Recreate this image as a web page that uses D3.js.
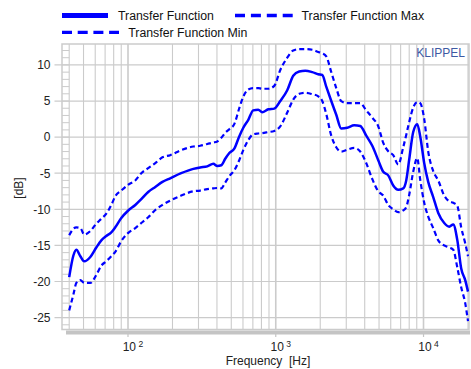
<!DOCTYPE html>
<html>
<head>
<meta charset="utf-8">
<script src="https://cdn.jsdelivr.net/npm/d3@7"></script>
<style>
  html, body { margin: 0; padding: 0; background: #fff; }
  #chart { width: 471px; height: 369px; }
  text { font-family: Arial, "Liberation Sans", sans-serif; }
</style>
</head>
<body>
<div id="chart"></div>
<script>
// Transfer function chart (log frequency axis)

const freqs = [40, 42.7, 44.7, 47.6, 50.6, 55.6, 61, 66, 71.3, 77.1, 82, 90.1, 100, 112, 123, 137, 153, 171, 193, 229,
  277, 308, 344, 378, 402, 428, 455, 485, 524, 566, 603, 652, 704, 761, 810, 890, 977, 1073, 1196, 1313,
  1442, 1584, 1766, 1940, 2064, 2196, 2375, 2567, 2774, 3047, 3397, 3731, 4097, 4499, 4939, 5339, 5770, 6237, 6744, 7290,
  7638, 8001, 8516, 9066, 9500, 10110, 10760, 11630, 12580, 13810, 14930, 15890, 16910, 17990, 19150, 20000];

const tfValues = [-19.4, -16.4, -15.6, -16.5, -17.2, -16.6, -15.3, -14.3, -13.7, -13.2, -12.5, -11.2, -10.2, -9.4, -8.6, -7.6, -6.9, -6.2, -5.7, -5.0,
  -4.4, -4.2, -4.05, -3.7, -4.0, -3.9, -3.0, -2.2, -1.6, 0.1, 1.3, 2.4, 3.7, 3.8, 3.45, 3.85, 3.95, 5.0, 6.5, 8.5,
  9.1, 9.2, 9.0, 8.7, 8.6, 7.0, 5.0, 3.1, 1.2, 1.3, 1.65, 1.55, 0.2, -1.2, -3.2, -4.8, -5.3, -6.7, -7.3, -7.1,
  -6.0, -3.1, 0.7, 1.8, 0.1, -3.6, -6.2, -8.3, -10.5, -11.9, -12.4, -12.1, -14.2, -18.2, -19.8, -21.4];

const tfMaxValues = [-13.6, -12.7, -12.5, -12.6, -13.5, -13.0, -12.0, -11.3, -10.6, -9.4, -8.2, -7.4, -6.6, -6.0, -5.0, -4.3, -3.6, -2.8, -2.5, -1.8,
  -1.3, -1.2, -0.95, -0.75, -0.6, -0.1, 0.6, 1.1, 1.8, 4.0, 5.6, 6.6, 6.8, 6.8, 6.7, 6.7, 7.1, 9.3, 11.0, 12.0,
  12.2, 12.2, 12.1, 11.8, 11.6, 11.2, 9.0, 6.8, 5.0, 4.7, 4.7, 4.7, 3.7, 2.7, 1.5, -0.8, -1.95, -2.5, -3.8, -1.4,
  0.3, 2.1, 4.1, 4.85, 4.7, 2.5, -2.0, -4.7, -6.0, -8.1, -8.9, -9.1, -9.5, -12.5, -14.7, -16.5];

const tfMinValues = [-24.0, -21.8, -20.2, -19.8, -20.2, -20.2, -19.1, -17.8, -17.2, -16.5, -15.9, -14.4, -13.3, -12.6, -11.9, -11.1, -10.1, -9.4, -8.8, -8.1,
  -7.5, -7.4, -7.2, -7.1, -7.05, -7.1, -6.3, -5.4, -4.6, -3.2, -1.8, -0.4, 0.4, 0.5, 0.55, 0.7, 0.85, 1.5, 3.4, 5.2,
  6.0, 6.15, 5.95, 5.65, 5.0, 3.2, 0.2, -1.4, -2.0, -1.75, -1.5, -2.0, -3.6, -5.8, -7.5, -8.1, -9.4, -10.0, -10.4, -10.15,
  -9.7, -8.0, -4.8, -2.9, -5.9, -9.1, -11.0, -12.6, -14.3, -15.0, -15.3, -15.6, -18.0, -20.8, -23.0, -25.5];

const yTicks = [10, 5, 0, -5, -10, -15, -20, -25];
const xDecades = [100, 1000, 10000];
const xDecadeLabels = [["10", "2"], ["10", "3"], ["10", "4"]];

const seriesNames = ["Transfer Function", "Transfer Function Max", "Transfer Function Min"];

const width = 471, height = 369;
const plot = { left: 62, right: 469, top: 44, bottom: 329.5 };
const gridColor = "#cbcbcb";
const lineColor = "#0000ff";

const svg = d3.select("#chart")
  .append("svg")
  .attr("width", width)
  .attr("height", height);

const xScale = d3.scaleLog()
  .domain([40, 20000])
  .range([69.2, 468]);

const yScale = d3.scaleLinear()
  .domain([-26.65, 12.9])
  .range([plot.bottom, plot.top]);

// vertical grid lines: 40..90, 100..900, 1000..9000, 10000, 20000
const vGrid = [];
[10, 100, 1000, 10000].forEach(dec => {
  for (let m = 1; m <= 9; m++) {
    const f = dec * m;
    if (f >= 40 && f <= 20000) vGrid.push(f);
  }
});

svg.append("g")
  .selectAll("line")
  .data(vGrid)
  .join("line")
  .attr("x1", d => xScale(d))
  .attr("x2", d => xScale(d))
  .attr("y1", plot.top)
  .attr("y2", plot.bottom)
  .attr("stroke", gridColor)
  .attr("stroke-width", d => xDecades.includes(d) ? 1.6 : 1.1);

// horizontal grid lines + outer ticks
svg.append("g")
  .selectAll("line")
  .data(yTicks)
  .join("line")
  .attr("x1", 54.5)
  .attr("x2", plot.right)
  .attr("y1", d => yScale(d))
  .attr("y2", d => yScale(d))
  .attr("stroke", gridColor)
  .attr("stroke-width", 1.2);

// minor dB ruler on the left
svg.append("g")
  .selectAll("line")
  .data(d3.range(-26, 13))
  .join("line")
  .attr("x1", plot.left)
  .attr("x2", 69.2)
  .attr("y1", d => yScale(d))
  .attr("y2", d => yScale(d))
  .attr("stroke", gridColor)
  .attr("stroke-width", 1);

// frame
svg.append("rect")
  .attr("x", plot.left)
  .attr("y", plot.top)
  .attr("width", plot.right - plot.left)
  .attr("height", plot.bottom - plot.top)
  .attr("fill", "none")
  .attr("stroke", gridColor)
  .attr("stroke-width", 1.5);

// bottom axis bar
svg.append("rect")
  .attr("x", 66)
  .attr("y", 330.5)
  .attr("width", 404)
  .attr("height", 4)
  .attr("fill", "#c4c4c4");

svg.append("g")
  .selectAll("line")
  .data(xDecades)
  .join("line")
  .attr("x1", d => xScale(d))
  .attr("x2", d => xScale(d))
  .attr("y1", 334)
  .attr("y2", 337)
  .attr("stroke", "#c4c4c4")
  .attr("stroke-width", 1.2);

// y tick labels
svg.append("g")
  .selectAll("text")
  .data(yTicks)
  .join("text")
  .attr("x", 50.5)
  .attr("y", d => yScale(d) + 4.3)
  .attr("text-anchor", "end")
  .style("font-size", "12px")
  .style("fill", "#222")
  .text(d => d);

// x tick labels with superscript exponent
const xLabels = svg.append("g")
  .selectAll("text")
  .data(xDecades)
  .join("text")
  .attr("x", d => xScale(d) - 5.3)
  .attr("y", 351)
  .style("font-size", "12px")
  .style("fill", "#222");

xLabels.append("tspan").text((d, i) => xDecadeLabels[i][0]);
xLabels.append("tspan")
  .attr("dx", 2.5)
  .attr("dy", -4)
  .style("font-size", "8.5px")
  .text((d, i) => xDecadeLabels[i][1]);

svg.append("text")
  .attr("x", 268)
  .attr("y", 365)
  .attr("text-anchor", "middle")
  .style("font-size", "12px")
  .style("fill", "#222")
  .style("white-space", "pre")
  .attr("xml:space", "preserve")
  .text("Frequency  [Hz]");

svg.append("text")
  .attr("transform", "translate(23,188) rotate(-90)")
  .attr("text-anchor", "middle")
  .style("font-size", "12px")
  .style("fill", "#222")
  .text("[dB]");

svg.append("text")
  .attr("x", 465)
  .attr("y", 57.3)
  .attr("text-anchor", "end")
  .style("font-size", "12px")
  .style("fill", "#3d5aa3")
  .text("KLIPPEL");

// curves
svg.append("clipPath")
  .attr("id", "plot-clip")
  .append("rect")
  .attr("x", plot.left)
  .attr("y", plot.top)
  .attr("width", plot.right - plot.left)
  .attr("height", plot.bottom - plot.top);

const line = d3.line()
  .x(d => xScale(d.f))
  .y(d => yScale(d.v))
  .curve(d3.curveMonotoneX);

const toPoints = vals => freqs.map((f, i) => ({ f, v: vals[i] }));

const curves = [
  { name: seriesNames[1], values: tfMaxValues, dash: "5,3.2", w: 2.2 },
  { name: seriesNames[2], values: tfMinValues, dash: "5,3.2", w: 2.2 },
  { name: seriesNames[0], values: tfValues, dash: null, w: 2.5 }
];

svg.append("g")
  .attr("clip-path", "url(#plot-clip)")
  .selectAll("path")
  .data(curves)
  .join("path")
  .attr("d", d => line(toPoints(d.values)))
  .attr("fill", "none")
  .attr("stroke", lineColor)
  .attr("stroke-width", d => d.w)
  .attr("stroke-linejoin", "round")
  .attr("stroke-dasharray", d => d.dash);

// legend
const legendItems = [
  { name: seriesNames[0], x1: 62, x2: 108, y: 15.5, tx: 118, dash: null, w: 5 },
  { name: seriesNames[1], x1: 235, x2: 293, y: 15.5, tx: 301.5, dash: "10,5.9", w: 3.3 },
  { name: seriesNames[2], x1: 62, x2: 119, y: 32.3, tx: 128.3, dash: "10,5.7", w: 3.3 }
];

const legend = svg.append("g");

legend.selectAll("line")
  .data(legendItems)
  .join("line")
  .attr("x1", d => d.x1)
  .attr("x2", d => d.x2)
  .attr("y1", d => d.y)
  .attr("y2", d => d.y)
  .attr("stroke", lineColor)
  .attr("stroke-width", d => d.w)
  .attr("stroke-dasharray", d => d.dash);

legend.selectAll("text")
  .data(legendItems)
  .join("text")
  .attr("x", d => d.tx)
  .attr("y", d => d.y + 4.2)
  .style("font-size", "12.3px")
  .style("fill", "#111")
  .text(d => d.name);
</script>
</body>
</html>
